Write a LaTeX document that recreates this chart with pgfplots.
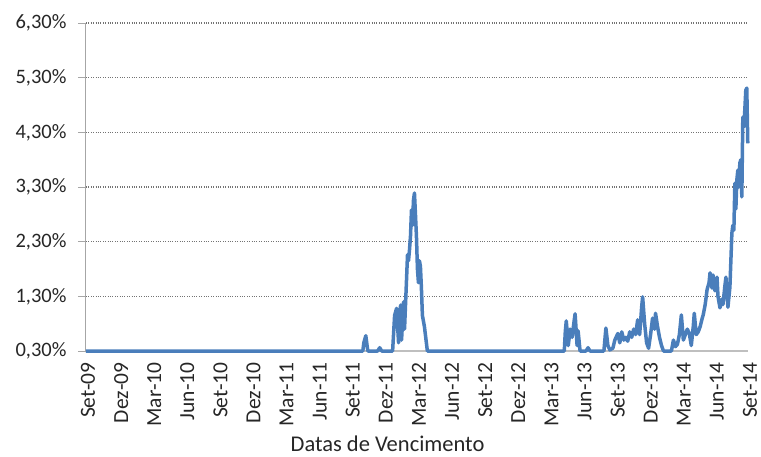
\documentclass[border=0pt]{standalone}
\usepackage{pgfplots}
\pgfplotsset{compat=1.18}
\usepackage{fontspec}
\setmainfont{Carlito}
\definecolor{serie}{HTML}{4A7EBB}
\definecolor{txt}{HTML}{262626}
\begin{document}
\begin{tikzpicture}
\begin{axis}[
  at={(0,0)}, anchor=south west,
  scale only axis, width=662pt, height=328pt,
  xmin=0, xmax=60, ymin=0.3, ymax=6.3,
  clip=false,
  axis x line*=bottom, axis y line*=left,
  x axis line style={draw=black!25, line width=1.2pt, -},
  y axis line style={draw=black!35, line width=1pt, -},
  xtick={0,3,...,60},
  xticklabels={Set-09,Dez-09,Mar-10,Jun-10,Set-10,Dez-10,Mar-11,Jun-11,Set-11,Dez-11,Mar-12,Jun-12,Set-12,Dez-12,Mar-13,Jun-13,Set-13,Dez-13,Mar-14,Jun-14,Set-14},
  x tick label style={rotate=90, anchor=east, font=\fontsize{21.5}{21.5}\selectfont, text=txt, xshift=0pt, yshift=-2pt},
  xtick style={draw=none},
  ytick={0.3,1.3,2.3,3.3,4.3,5.3,6.3},
  yticklabels={{0,30\%},{1,30\%},{2,30\%},{3,30\%},{4,30\%},{5,30\%},{6,30\%}},
  y tick label style={font=\fontsize{20.5}{20.5}\selectfont, text=txt, xshift=-8pt},
  ytick style={draw=black!35, line width=1pt},
  tick align=outside, major tick length=8pt,
  ymajorgrids, grid style={dotted, black!55, line width=1.2pt},
]
\addplot[serie, line width=3.5pt, line join=round] coordinates {
(0,0.30) (25.09,0.30) (25.18,0.45) (25.36,0.58) (25.54,0.30) (26.44,0.30) (26.62,0.36) (26.80,0.30) (27.79,0.30)
(27.97,0.95) (28.15,1.08) (28.33,0.45) (28.51,1.14) (28.60,0.50) (28.78,1.20) (28.87,0.70) (29.05,1.60) (29.14,2.06)
(29.23,1.95) (29.32,2.15) (29.41,2.40) (29.50,2.88) (29.59,2.60) (29.68,3.06) (29.77,3.19) (29.86,2.80) (29.95,2.40)
(30.04,1.80) (30.13,1.55) (30.22,1.95) (30.31,1.85) (30.40,1.45) (30.49,0.95) (30.67,0.75) (30.85,0.45) (30.94,0.30)
(43.35,0.30) (43.44,0.65) (43.53,0.85) (43.71,0.40) (43.88,0.70) (44.06,0.55) (44.24,0.85) (44.33,0.98) (44.51,0.40)
(44.60,0.67) (44.78,0.30) (45.32,0.30) (45.50,0.36) (45.68,0.30) (46.94,0.30) (47.12,0.72) (47.30,0.40) (47.48,0.32)
(47.75,0.35) (47.93,0.50) (48.20,0.62) (48.38,0.45) (48.56,0.65) (48.74,0.50) (48.92,0.55) (49.10,0.48) (49.28,0.65)
(49.46,0.55) (49.64,0.70) (49.82,0.60) (50.00,0.87) (50.18,0.60) (50.36,1.10) (50.45,1.29) (50.63,0.80) (50.81,0.45)
(50.99,0.35) (51.17,0.60) (51.35,0.90) (51.53,0.70) (51.62,0.99) (51.80,0.75) (51.98,0.55) (52.16,0.40) (52.34,0.30)
(53.06,0.30) (53.24,0.50) (53.42,0.38) (53.60,0.42) (53.78,0.60) (53.96,0.96) (54.14,0.50) (54.32,0.60) (54.50,0.70)
(54.68,0.62) (54.86,0.40) (55.04,0.75) (55.13,0.99) (55.31,0.60) (55.49,0.65) (55.67,0.75) (55.85,0.90) (55.94,0.96)
(56.12,1.15) (56.29,1.42) (56.47,1.55) (56.56,1.73) (56.74,1.45) (56.83,1.69) (57.01,1.40) (57.19,1.65) (57.28,1.30)
(57.46,1.09) (57.64,1.25) (57.73,1.15) (57.91,1.50) (58.00,1.65) (58.18,1.10) (58.36,1.47) (58.54,2.46) (58.63,2.60)
(58.72,2.51) (58.81,3.37) (58.90,2.90) (58.99,3.43) (59.08,3.61) (59.17,3.30) (59.26,3.74) (59.35,3.80) (59.44,3.12)
(59.53,4.58) (59.62,4.40) (59.71,4.71) (59.80,5.07) (59.89,5.11) (59.98,4.10)
};
\node[font=\fontsize{22.5}{22.5}\selectfont, text=txt] at (rel axis cs:0.4555,0) [yshift=-93pt] {Datas de Vencimento};
\end{axis}
\pgfresetboundingbox
\path[use as bounding box] (-86pt,-105pt) rectangle (675pt,351pt);
\end{tikzpicture}
\end{document}
